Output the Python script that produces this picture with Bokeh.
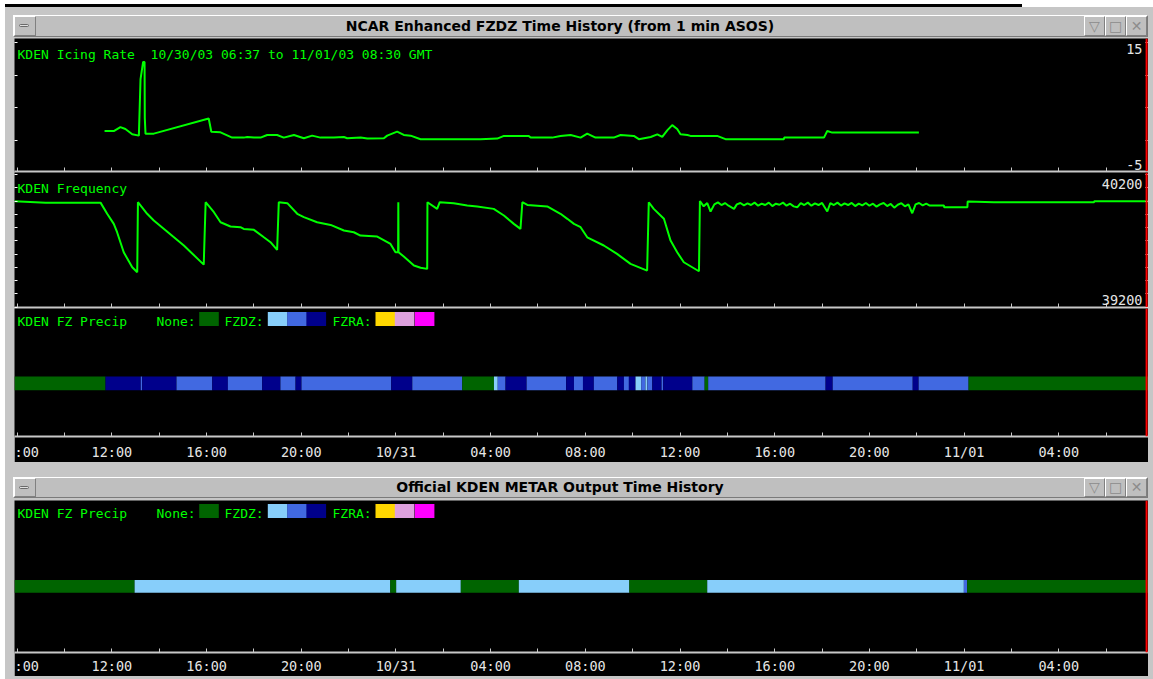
from bokeh.plotting import figure
from bokeh.models import (Range1d, FixedTicker, LinearAxis, Label, Span,
                          BoxAnnotation, ColumnDataSource, Div, Spacer)
from bokeh.layouts import column, row
from bokeh.embed import file_html
from bokeh.resources import INLINE

# ---------------- data (time = hours since 10/30/03 00:00 GMT) ----------------
x_start, x_end = 7.886, 55.79
now_hour = 55.71
tick_hours = [8, 12, 16, 20, 24, 28, 32, 36, 40, 44, 48, 52]
tick_labels = [":00", "12:00", "16:00", "20:00", "10/31", "04:00",
               "08:00", "12:00", "16:00", "20:00", "11/01", "04:00"]
minor_hours = [10, 14, 18, 22, 26, 30, 34, 38, 42, 46, 50, 54]
all_hours = sorted(tick_hours + minor_hours)

icing_ticks = [-5, 0, 5, 10, 15]
freq_ticks = [39200, 39300, 39400, 39500, 39600, 39700, 39800, 39900, 40000, 40100, 40200]

icing_hours = [11.69, 12.08, 12.36, 12.57, 12.86, 13.14, 13.21, 13.32, 13.38, 13.39, 13.42,
               13.77, 16.09, 16.20, 16.59, 17.08, 17.57, 17.72, 18.00, 18.28, 18.56, 18.98,
               19.26, 19.69, 20.11, 20.46, 20.81, 21.38, 21.80, 21.94, 22.51, 22.79, 23.49,
               23.63, 24.05, 24.33, 24.62, 25.04, 27.57, 28.28, 28.56, 29.61, 29.69, 30.60,
               30.95, 31.38, 31.80, 32.08, 32.43, 32.99, 33.20, 33.49, 34.05, 34.26, 34.76,
               35.04, 35.25, 35.46, 35.67, 35.88, 36.02, 36.31, 36.44, 37.57, 37.92, 40.39,
               40.40, 42.08, 42.22, 42.43, 46.09]
icing_rate = [1.5, 1.5, 2.1, 1.8, 1.0, 0.8, 9.4, 12.0, 12.0, 3.5, 1.1,
              1.1, 3.4, 1.4, 1.3, 0.5, 0.5, 0.6, 0.5, 0.5, 0.9, 0.9,
              0.5, 0.9, 0.4, 0.8, 0.5, 0.5, 0.6, 0.4, 0.5, 0.35, 0.4,
              0.8, 1.4, 0.9, 0.8, 0.26, 0.26, 0.35, 0.76, 0.76, 0.5, 0.5,
              0.76, 0.9, 0.5, 1.1, 0.5, 0.5, 0.5, 0.9, 0.76, 0.26, 0.6,
              1.0, 0.6, 1.6, 2.4, 1.8, 1.0, 0.9, 0.76, 0.76, 0.26, 0.26,
              0.5, 0.5, 1.5, 1.26, 1.26]

freq_hours = [7.89, 9.20, 11.52, 11.80, 12.08, 12.22, 12.50, 12.86, 13.07, 13.10, 13.49,
              13.77, 15.04, 15.88, 15.96, 16.31, 16.59, 17.01, 17.43, 17.57, 18.00, 18.42,
              18.70, 18.98, 19.05, 19.41, 19.83, 20.11, 20.67, 21.24, 21.80, 22.22, 22.50,
              23.21, 23.77, 23.98, 24.09, 24.10, 24.11, 24.33, 24.76, 25.04, 25.32, 25.33,
              25.74, 25.85, 26.44, 27.01, 27.43, 28.13, 28.56, 28.98, 29.26, 29.34, 29.55,
              30.39, 30.95, 31.24, 31.52, 31.80, 32.08, 32.78, 33.34, 33.91, 34.61, 34.68,
              34.89, 35.32, 35.60, 35.88, 36.16, 36.80, 36.84,
              37.00, 37.15, 37.29, 37.45, 37.60, 37.75, 37.90, 38.05, 38.28, 38.40, 38.55,
              38.70, 38.85, 39.00, 39.15, 39.30, 39.45, 39.60, 39.75, 39.90, 40.05, 40.20,
              40.35, 40.50, 40.65, 40.80, 40.95, 41.10, 41.25, 41.40, 41.55, 41.70, 41.85,
              42.00, 42.22, 42.35, 42.50, 42.65, 42.80, 42.95, 43.10, 43.25, 43.40, 43.55,
              43.70, 43.85, 44.00, 44.15, 44.30, 44.45, 44.60, 44.75, 44.90, 45.05, 45.20,
              45.35, 45.50, 45.65, 45.81, 45.95, 46.10, 46.25, 46.40, 46.55, 46.70, 47.15,
              47.16, 48.14, 48.15, 49.26, 53.49, 53.50, 55.79]
freq_hz = [39998, 39988, 39988, 39904, 39828, 39765, 39614, 39501, 39463, 39991, 39904,
           39853, 39665, 39521, 39991, 39916, 39840, 39808, 39803, 39790, 39783, 39727,
           39690, 39632, 39991, 39984, 39904, 39879, 39840, 39820, 39778, 39765, 39740,
           39732, 39677, 39614, 39614, 39991, 39614, 39582, 39514, 39497, 39489, 39991,
           39941, 39991, 39984, 39966, 39959, 39941, 39891, 39828, 39790, 39991, 39971,
           39959, 39904, 39866, 39828, 39803, 39727, 39665, 39602, 39527, 39476, 39991,
           39941, 39866, 39702, 39614, 39539, 39471, 40000,
           39960, 39985, 39921, 39975, 39990, 39970, 39985, 39965, 39941, 39975, 39985,
           39968, 39982, 39970, 39988, 39965, 39980, 39970, 39988, 39962, 39980, 39972,
           39988, 39965, 39980, 39960, 39953, 39985, 39970, 39988, 39965, 39982, 39970,
           39986, 39921, 39985, 39970, 39988, 39966, 39982, 39970, 39986, 39962, 39980,
           39968, 39985, 39965, 39980, 39958, 39975, 39985, 39962, 39978, 39950, 39972,
           39984, 39960, 39975, 39908, 39975, 39985, 39968, 39980, 39966, 39966, 39966,
           39953, 39953, 39996, 39991, 39991, 39999, 39999]

cat_names = ["None", "FZDZ light", "FZDZ moderate", "FZDZ heavy",
             "FZRA light", "FZRA moderate", "FZRA heavy"]
cat_colors = ["#006400", "#87cefa", "#4169e1", "#00008b",
              "#ffd700", "#dda0dd", "#ff00ff"]

fz_edges = [7.886, 11.73, 13.22, 13.28, 14.73, 16.24, 16.90, 18.35, 19.12, 19.76, 20.01,
            23.80, 24.69, 26.80, 28.14, 28.30, 28.63, 29.52, 31.19, 31.52, 31.90, 32.36,
            33.35, 33.63, 33.84, 34.12, 34.36, 34.54, 34.62, 34.83, 35.22, 35.29, 36.52,
            37.04, 37.19, 42.15, 42.45, 45.83, 46.08, 48.19, 55.79]
fz_codes = [0, 3, 2, 3, 2, 3, 2, 3, 2, 3, 2, 3, 2, 0, 1, 2, 3, 2, 3, 2, 3, 2, 3, 2, 3,
            1, 2, 1, 2, 3, 2, 3, 2, 0, 2, 3, 2, 3, 2, 0]

metar_edges = [7.886, 12.96, 23.76, 24.01, 26.74, 29.19, 33.86, 37.15, 47.99, 48.13, 55.79]
metar_codes = [0, 1, 0, 1, 0, 1, 0, 1, 2, 0]

title_top = "NCAR Enhanced FZDZ Time History (from 1 min ASOS)"
title_bottom = "Official KDEN METAR Output Time History"
icing_text = "KDEN Icing Rate \u00a010/30/03 06:37 to 11/01/03 08:30 GMT"

# ---------------- styling ----------------
FIG_W = 1134
GREEN = "#00ff00"
MONO = "DejaVu Sans Mono"
TICK_COL = "#e6e6e6"
AXIS_COL = "#c8c8c8"
GRAY = "#c6c6c6"

xr = Range1d(x_start, x_end)


def style_ticks_only(a, ticks, color, tick_len):
    a.ticker = FixedTicker(ticks=[], minor_ticks=ticks)
    a.axis_line_color = None
    a.major_tick_line_color = None
    a.minor_tick_line_color = color
    a.minor_tick_in = tick_len
    a.minor_tick_out = 0
    a.major_tick_in = 0
    a.major_tick_out = 0
    a.major_label_standoff = 0


def base_fig(h, yr, bottom, yticks, labelled):
    p = figure(width=FIG_W, height=h, x_range=xr, y_range=yr,
               output_backend="svg", toolbar_location=None,
               background_fill_color="black", border_fill_color="black",
               min_border_left=0, min_border_right=0, min_border_top=0,
               min_border_bottom=bottom)
    p.outline_line_color = None
    p.xgrid.visible = False
    p.ygrid.visible = False
    xa = p.xaxis[0]
    if labelled:
        xa.ticker = FixedTicker(ticks=tick_hours, minor_ticks=minor_hours)
        xa.major_label_overrides = {h_: l for h_, l in zip(tick_hours, tick_labels)}
        xa.major_tick_line_color = AXIS_COL
        xa.minor_tick_line_color = AXIS_COL
        xa.major_tick_in = 4
        xa.major_tick_out = 0
        xa.minor_tick_in = 4
        xa.minor_tick_out = 0
        xa.major_label_text_font_size = "13.5px"
        xa.major_label_text_font = MONO
        xa.major_label_text_color = TICK_COL
    else:
        style_ticks_only(xa, all_hours, AXIS_COL, 4)
    xa.axis_line_color = AXIS_COL
    xa.axis_line_width = 2
    ra = LinearAxis()
    p.add_layout(ra, "right")
    for a in (p.yaxis[0], ra):
        style_ticks_only(a, yticks, "#ffffff", 3)
    p.add_layout(Span(location=now_hour, dimension="height", line_color="#ff0000", line_width=2))
    return p


def label(p, text, x, y, align="left", color=GREEN, size="13px"):
    p.add_layout(Label(x=x, y=y, x_units="screen", y_units="screen", text=text,
                       text_font=MONO, text_font_size=size, text_color=color,
                       text_align=align, text_baseline="middle"))


def bars(p, edges, codes):
    src = ColumnDataSource(dict(left=edges[:-1], right=edges[1:],
                                color=[cat_colors[c] for c in codes]))
    p.hbar(y=0, height=1, left="left", right="right", fill_color="color",
           line_color=None, source=src)


def legend(p, top):
    label(p, "KDEN FZ Precip", 3, top - 14.5)
    label(p, "None:", 142, top - 14.5)
    label(p, "FZDZ:", 210, top - 14.5)
    label(p, "FZRA:", 318, top - 14.5)
    sw = [(184.7, 0), (253.3, 1), (272.7, 2), (292.0, 3), (361.0, 4), (380.3, 5), (400.3, 6)]
    for x0, c in sw:
        p.add_layout(BoxAnnotation(left=x0, right=x0 + 19.6, top=top - 5.5, bottom=top - 19.5,
                                   left_units="screen", right_units="screen",
                                   top_units="screen", bottom_units="screen",
                                   fill_color=cat_colors[c], fill_alpha=1.0,
                                   line_color=None, level="overlay"))


# panel 1: icing rate (ref y 38-172)
H1 = 134
f1 = base_fig(H1, Range1d(-4.65, 15.56), 1, icing_ticks, False)
f1.line(icing_hours, icing_rate, line_color=GREEN, line_width=2)
fh1 = H1 - 1
label(f1, icing_text, 3, fh1 - 15.5)
label(f1, "15", FIG_W - 6, fh1 - 10.5, align="right", color=TICK_COL, size="13.5px")
label(f1, "-5", FIG_W - 6, 7, align="right", color=TICK_COL, size="13.5px")

# panel 2: frequency (ref y 172-308)
H2 = 136
f2 = base_fig(H2, Range1d(39198, 40215), 1, freq_ticks, False)
f2.line(freq_hours, freq_hz, line_color=GREEN, line_width=2)
fh2 = H2 - 1
label(f2, "KDEN Frequency", 3, fh2 - 15.5)
label(f2, "40200", FIG_W - 6, fh2 - 11.5, align="right", color=TICK_COL, size="13.5px")
label(f2, "39200", FIG_W - 6, 8, align="right", color=TICK_COL, size="13.5px")

# panel 3: FZ precip (NCAR) (ref y 308-462)
H3 = 154
f3 = base_fig(H3, Range1d(-3.86, 5.43), 24, [], True)
f3.xaxis[0].major_label_standoff = 7
bars(f3, fz_edges, fz_codes)
legend(f3, H3 - 24)

# panel 4: METAR (ref y 500-676)
H4 = 176
f4 = base_fig(H4, Range1d(-5.15, 6.69), 22, [], True)
f4.xaxis[0].major_label_standoff = 5
bars(f4, metar_edges, metar_codes)
legend(f4, H4 - 22)


def title_bar(text, height):
    btn = ("box-sizing:border-box;border:1px solid;border-color:#ffffff #808080 #808080 #ffffff;"
           f"height:{height - 2}px;text-align:center;line-height:{height - 4}px;color:#8c8c8c;"
           "font-weight:normal;font-size:14px;")
    html = (
        f'<div style="margin:0;width:1135px;height:{height}px;box-sizing:border-box;'
        'display:flex;background:#bfbfbf;border:1px solid;border-color:#ffffff #7a7a7a #7a7a7a #ffffff;'
        "font-family:'DejaVu Sans';font-weight:bold;font-size:14px;color:#000;overflow:hidden\">"
        f'<div style="width:22px;{btn}"><div style="margin:7px 0 0 4px;width:10px;height:3px;'
        'border:1px solid #6a6a6a;border-radius:2px;background:#e0e0e0"></div></div>'
        f'<div style="flex:1;text-align:center;line-height:{height - 2}px;">{text}</div>'
        f'<div style="width:21px;{btn}">&#9661;</div>'
        f'<div style="width:21px;{btn}">&#9633;</div>'
        f'<div style="width:21px;{btn}">&#10005;</div>'
        '</div>')
    return Div(text=html, width=1135, height=height, margin=0, styles={"overflow": "hidden"})


main = column(
    Spacer(width=1148, height=8),
    row(Spacer(width=8, height=22), title_bar(title_top, 22)),
    Spacer(width=10, height=1),
    row(Spacer(width=9, height=H1 + H2 + H3), column(f1, f2, f3)),
    Spacer(width=10, height=15),
    row(Spacer(width=8, height=21), title_bar(title_bottom, 21)),
    Spacer(width=10, height=2),
    row(Spacer(width=9, height=H4), f4),
    Spacer(width=10, height=3),
    styles={"background-color": GRAY},
)

root = column(
    Spacer(width=1153, height=4),
    row(Spacer(width=5, height=3), Spacer(width=1017, height=3, styles={"background-color": "black"})),
    row(Spacer(width=5, height=672), main),
)

open("out.html", "w").write(file_html(root, INLINE))
